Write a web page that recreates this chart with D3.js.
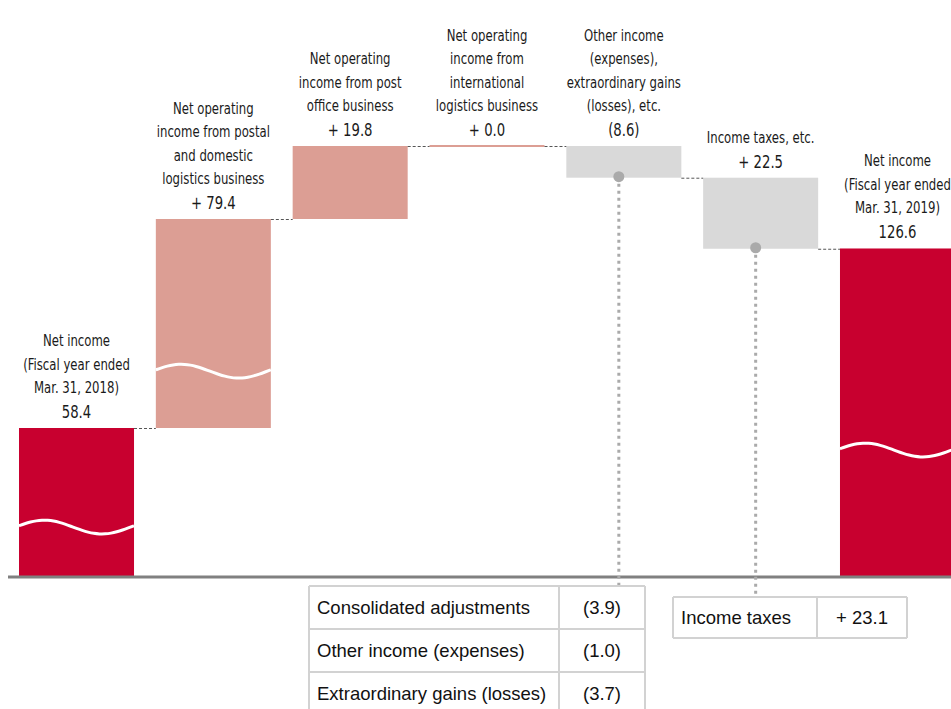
<!DOCTYPE html>
<html>
<head>
<meta charset="utf-8">
<script src="https://cdn.jsdelivr.net/npm/d3@7"></script>
<style>
  html, body { margin: 0; padding: 0; background: #fff; }
  svg { display: block; }
  .lbl { font-family: "DejaVu Sans Condensed", "Liberation Sans Narrow", sans-serif; font-stretch: condensed; fill: #1a1a1a; }
  .tbl { font-family: "Liberation Sans", Arial, sans-serif; fill: #111; }
</style>
</head>
<body>
<svg id="chart" width="951" height="709"></svg>
<script>
// Waterfall: net income bridge (billions of yen)
const categories = [
  ["Net income", "(Fiscal year ended", "Mar. 31, 2018)"],
  ["Net operating", "income from postal", "and domestic", "logistics business"],
  ["Net operating", "income from post", "office business"],
  ["Net operating", "income from", "international", "logistics business"],
  ["Other income", "(expenses),", "extraordinary gains", "(losses), etc."],
  ["Income taxes, etc."],
  ["Net income", "(Fiscal year ended", "Mar. 31, 2019)"]
];
const values = [58.4, 79.4, 19.8, 0.0, -8.6, -22.5, 126.6];
const kinds = ["total", "step", "step", "step", "other", "other", "total"];
const valueLabels = ["58.4", "+ 79.4", "+ 19.8", "+ 0.0", "(8.6)", "+ 22.5", "126.6"];
// where the tall bars are cut (in value units); null = no cut
const breakAt = [19.3, 80.0, null, null, null, null, 49.7];

// breakdown tables hanging below the grey bars
const otherItems = ["Consolidated adjustments", "Other income (expenses)", "Extraordinary gains (losses)"];
const otherValues = ["(3.9)", "(1.0)", "(3.7)"];
const taxItems = ["Income taxes"];
const taxValues = ["+ 23.1"];

const colors = { total: "#c8002f", step: "#dc9e94", other: "#d9d9d9" };

const svg = d3.select("#chart");

// running totals -> floating bar extents
let run = 0;
const bars = values.map((v, i) => {
  let lo, hi;
  if (kinds[i] === "total") { lo = 0; hi = v; run = v; }
  else { const start = run; run = start + v; lo = Math.min(start, run); hi = Math.max(start, run); }
  return { i, lo, hi, end: run, kind: kinds[i] };
});

// broken value axis: piecewise-linear scale with compressed lower segments
const cum1 = values[0], cum2 = values[0] + values[1], peak = d3.max(bars, d => d.hi);
const y = d3.scaleLinear()
  .domain([0, cum1, cum2, peak])
  .range([576, 428, 219, 146]);

const x = d3.scaleBand()
  .domain(d3.range(values.length))
  .range([19, 955])
  .paddingInner(0.1594)
  .paddingOuter(0);

// bars
svg.append("g").selectAll("rect").data(bars).join("rect")
  .attr("x", d => x(d.i))
  .attr("width", x.bandwidth())
  .attr("y", d => y(d.hi) - (y(d.lo) - y(d.hi) < 2 ? 1 : 0))
  .attr("height", d => Math.max(2, y(d.lo) - y(d.hi)))
  .attr("fill", d => colors[d.kind]);

// wavy break marks
const wave = d3.line().curve(d3.curveBasis);
svg.append("g").selectAll("path")
  .data(bars.filter(d => breakAt[d.i] != null))
  .join("path")
  .attr("d", d => {
    const x0 = x(d.i), w = x.bandwidth(), cy = y(breakAt[d.i]);
    const pts = d3.range(0, 1.0001, 0.05).map(t => [x0 + t * w, cy - 7 * Math.sin(2 * Math.PI * (t + 0.03))]);
    return wave(pts);
  })
  .attr("fill", "none")
  .attr("stroke", "#fff")
  .attr("stroke-width", 3);

// dashed connectors between consecutive bars
svg.append("g").selectAll("line")
  .data(bars.slice(0, -1))
  .join("line")
  .attr("x1", d => x(d.i) + x.bandwidth())
  .attr("x2", d => x(d.i + 1))
  .attr("y1", d => y(d.end) + 0.5)
  .attr("y2", d => y(d.end) + 0.5)
  .attr("stroke", "#555")
  .attr("stroke-width", 1)
  .attr("stroke-dasharray", "3,2");

// baseline
svg.append("line")
  .attr("x1", 8).attr("x2", 951)
  .attr("y1", y(0) + 1).attr("y2", y(0) + 1)
  .attr("stroke", "#808080").attr("stroke-width", 3);

// category + value labels above each bar (horizontally condensed)
const lineH = 23.5;
const squeeze = 0.84;
const lg = svg.append("g");
function label(cx, yy, size, s) {
  lg.append("text").attr("class", "lbl")
    .attr("transform", `translate(${cx},${yy}) scale(${squeeze},1)`)
    .attr("text-anchor", "middle").attr("font-size", size)
    .text(s);
}
bars.forEach(d => {
  const cx = x(d.i) + x.bandwidth() / 2;
  const base = y(d.hi) - 10;
  label(cx, base, 17.5, valueLabels[d.i]);
  const lines = categories[d.i];
  lines.forEach((s, k) => label(cx, base - 25 - (lines.length - 1 - k) * lineH, 15.5, s));
});

// breakdown tables
function table(items, vals, left, top, colX, right, rowH, stemBar) {
  const g = svg.append("g");
  const bar = bars[stemBar];
  const sx = x(bar.i) + x.bandwidth() / 2 - 5;
  g.append("line")
    .attr("x1", sx).attr("x2", sx)
    .attr("y1", y(bar.lo) + 6).attr("y2", top)
    .attr("stroke", "#aaa").attr("stroke-width", 3)
    .attr("stroke-dasharray", "3,4");
  g.append("circle").attr("cx", sx).attr("cy", y(bar.lo) - 1).attr("r", 5.5).attr("fill", "#aaa");
  const n = items.length;
  const stroke = "#d2d2d2";
  for (let r = 0; r <= n; r++) {
    g.append("line").attr("x1", left).attr("x2", right)
      .attr("y1", top + r * rowH).attr("y2", top + r * rowH)
      .attr("stroke", stroke).attr("stroke-width", 2);
  }
  [left, colX, right].forEach(cx => {
    g.append("line").attr("x1", cx).attr("x2", cx)
      .attr("y1", top).attr("y2", top + n * rowH)
      .attr("stroke", stroke).attr("stroke-width", 2);
  });
  items.forEach((s, r) => {
    const cy = top + r * rowH + rowH / 2 + 6.5;
    g.append("text").attr("class", "tbl").attr("x", left + 8).attr("y", cy)
      .attr("font-size", 18.5).text(s);
    g.append("text").attr("class", "tbl").attr("x", (colX + right) / 2).attr("y", cy)
      .attr("text-anchor", "middle").attr("font-size", 18.5).text(vals[r]);
  });
}
table(otherItems, otherValues, 309, 586, 559, 645, 43, 4);
table(taxItems, taxValues, 673, 597, 817, 907, 41, 5);
</script>
</body>
</html>
